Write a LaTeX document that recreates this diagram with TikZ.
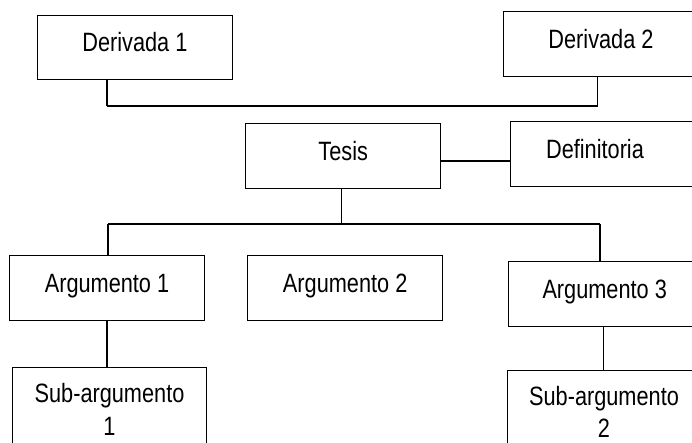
\documentclass[tikz,border=0pt]{standalone}
\usepackage{fontspec}
\setmainfont[FakeStretch=0.82]{Liberation Sans}
\begin{document}
\begin{tikzpicture}[x=1pt,y=-1pt,
  box/.style={draw=black,line width=0.9pt,inner sep=0pt,font=\fontsize{26.5}{32.3}\selectfont,
    text height=19.5pt,text depth=9.7pt},
  twobox/.style={draw=black,line width=0.9pt,inner sep=0pt,align=center,font=\fontsize{26.5}{32.3}\selectfont},
  vconn/.style={line width=1.3pt},
  hconn/.style={line width=2pt}]
\useasboundingbox (0,0) rectangle (692,443);
\clip (0,0) rectangle (692,443);
\fill[white] (0,0) rectangle (692,443);

\node[box,minimum width=194.3pt,minimum height=64pt] (d1) at (134.9,47) {Derivada 1};
\node[box,minimum width=194.6pt,minimum height=64.3pt] (d2) at (601,43.85) {Derivada 2};
\node[box,minimum width=195pt,minimum height=65pt] (tesis) at (343.2,155.8) {Tesis};
\node[box,minimum width=195pt,minimum height=64.3pt] (def) at (607.5,153.85) {\hspace*{-25pt}Definitoria};
\node[box,minimum width=195.4pt,minimum height=65pt] (a1) at (107,287.5) {Argumento 1};
\node[box,minimum width=195pt,minimum height=65pt] (a2) at (345.2,287.5) {Argumento 2};
\node[box,minimum width=192.8pt,minimum height=64.3pt] (a3) at (604.7,293.85) {Argumento 3};
\node[twobox,minimum width=194.4pt,minimum height=84.2pt] (s1) at (109.5,409.4) {Sub-argumento\\1};
\node[twobox,minimum width=194pt,minimum height=84.2pt] (s2) at (604,412.1) {Sub-argumento\\2};

\coordinate (j1) at (107,106);
\coordinate (j2) at (597.7,106);
\coordinate (t1) at (341.7,224.3);
\coordinate (k1) at (108,224.3);
\coordinate (k2) at (600,224.3);
\coordinate (m1) at (107,330);
\coordinate (m3) at (603.7,340);

\draw[vconn] (j1 |- d1.south) -- (j1);
\draw[vconn] (j2 |- d2.south) -- (j2);
\draw[hconn] (j1) -- (j2);

\draw[line width=1.7pt] ([yshift=-5.2pt]tesis.east) -- ([yshift=-5.2pt]tesis.east -| def.west);

\draw[vconn] (t1 |- tesis.south) -- (t1);
\draw[hconn] (k1) -- (k2);
\draw[vconn] (k1) -- (k1 |- a1.north);
\draw[vconn] (k2) -- (k2 |- a3.north);

\draw[vconn] (m1 |- a1.south) -- (m1 |- s1.north);
\draw[vconn] (m3 |- a3.south) -- (m3 |- s2.north);
\end{tikzpicture}
\end{document}
